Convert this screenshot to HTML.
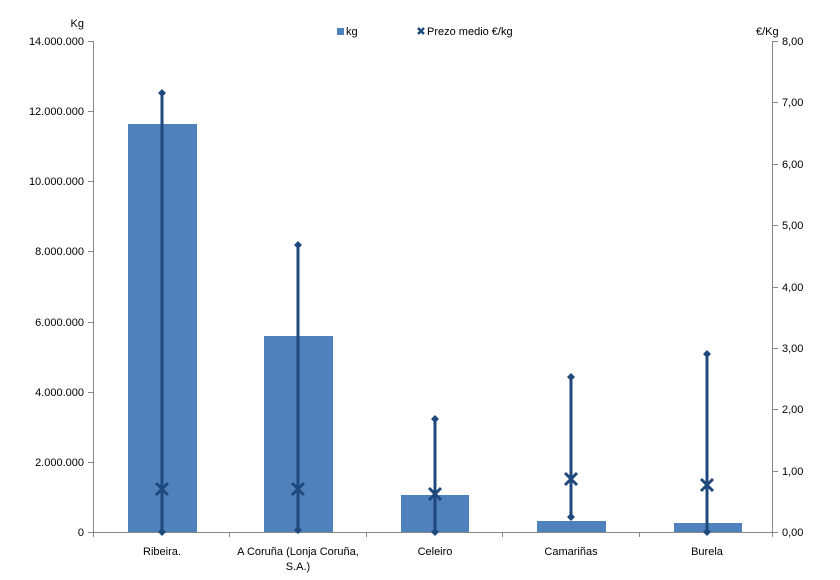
<!DOCTYPE html>
<html><head><meta charset="utf-8"><style>body{margin:0;background:#fff}svg{display:block}text{font-family:"Liberation Sans",sans-serif;font-size:11px;fill:#000}</style></head><body>
<svg width="840" height="580" xmlns="http://www.w3.org/2000/svg">
<g stroke="#868686" stroke-width="1" fill="none">
<line x1="93.5" y1="41" x2="93.5" y2="533"/>
<line x1="772.5" y1="41" x2="772.5" y2="533"/>
<line x1="93" y1="532.5" x2="773" y2="532.5"/>
<path d="M88 41.5h5M88 111.5h5M88 181.5h5M88 251.5h5M88 322.5h5M88 392.5h5M88 462.5h5M88 532.5h5"/>
<path d="M773 41.5h5M773 102.5h5M773 164.5h5M773 225.5h5M773 287.5h5M773 348.5h5M773 409.5h5M773 471.5h5M773 532.5h5"/>
<path d="M93.5 532v5M229.5 532v5M366.5 532v5M502.5 532v5M639.5 532v5M772.5 532v5"/>
</g>
<g text-anchor="end">
<text x="84" y="45">14.000.000</text><text x="84" y="115">12.000.000</text><text x="84" y="185">10.000.000</text><text x="84" y="255">8.000.000</text><text x="84" y="326">6.000.000</text><text x="84" y="396">4.000.000</text><text x="84" y="466">2.000.000</text><text x="84" y="536">0</text>
<text x="84" y="27" font-size="13">Kg</text>
</g>
<g>
<text x="782" y="45">8,00</text><text x="782" y="106">7,00</text><text x="782" y="168">6,00</text><text x="782" y="229">5,00</text><text x="782" y="291">4,00</text><text x="782" y="352">3,00</text><text x="782" y="413">2,00</text><text x="782" y="475">1,00</text><text x="782" y="536">0,00</text>
<text x="756" y="35" font-size="13">€/Kg</text>
</g>
<g fill="#4f81bd">
<rect x="128" y="124" width="69" height="408"/>
<rect x="264" y="336" width="69" height="196"/>
<rect x="401" y="495" width="68" height="37"/>
<rect x="537" y="521" width="69" height="11"/>
<rect x="674" y="523" width="68" height="9"/>
</g>
<g stroke="#1f497d" stroke-width="3" fill="none">
<line x1="162" y1="93" x2="162" y2="532"/>
<line x1="298" y1="245" x2="298" y2="530"/>
<line x1="435" y1="419" x2="435" y2="532"/>
<line x1="571" y1="377" x2="571" y2="517"/>
<line x1="707" y1="354" x2="707" y2="532"/>
</g>
<g fill="#1f497d">
<path d="M162 89l4 4-4 4-4-4z"/><path d="M162 528l4 4-4 4-4-4z"/>
<path d="M298 241l4 4-4 4-4-4z"/><path d="M298 526l4 4-4 4-4-4z"/>
<path d="M435 415l4 4-4 4-4-4z"/><path d="M435 528l4 4-4 4-4-4z"/>
<path d="M571 373l4 4-4 4-4-4z"/><path d="M571 513l4 4-4 4-4-4z"/>
<path d="M707 350l4 4-4 4-4-4z"/><path d="M707 528l4 4-4 4-4-4z"/>
</g>
<g stroke="#1f497d" stroke-width="3">
<path d="M156 483l12 12M168 483l-12 12"/>
<path d="M292 483l12 12M304 483l-12 12"/>
<path d="M429 488l12 12M441 488l-12 12"/>
<path d="M565 473l12 12M577 473l-12 12"/>
<path d="M701 479l12 12M713 479l-12 12"/>
</g>
<g text-anchor="middle">
<text x="162" y="555">Ribeira.</text>
<text x="298" y="555">A Coruña (Lonja Coruña,</text>
<text x="298" y="570">S.A.)</text>
<text x="435" y="555">Celeiro</text>
<text x="571" y="555">Camariñas</text>
<text x="707" y="555">Burela</text>
</g>
<rect x="337" y="28" width="7" height="7" fill="#4f81bd"/>
<text x="346" y="35" font-size="10">kg</text>
<path d="M418 28l6 6M424 28l-6 6" stroke="#1f497d" stroke-width="2.5"/>
<text x="427" y="35" font-size="10">Prezo medio €/kg</text>
</svg>
</body></html>
